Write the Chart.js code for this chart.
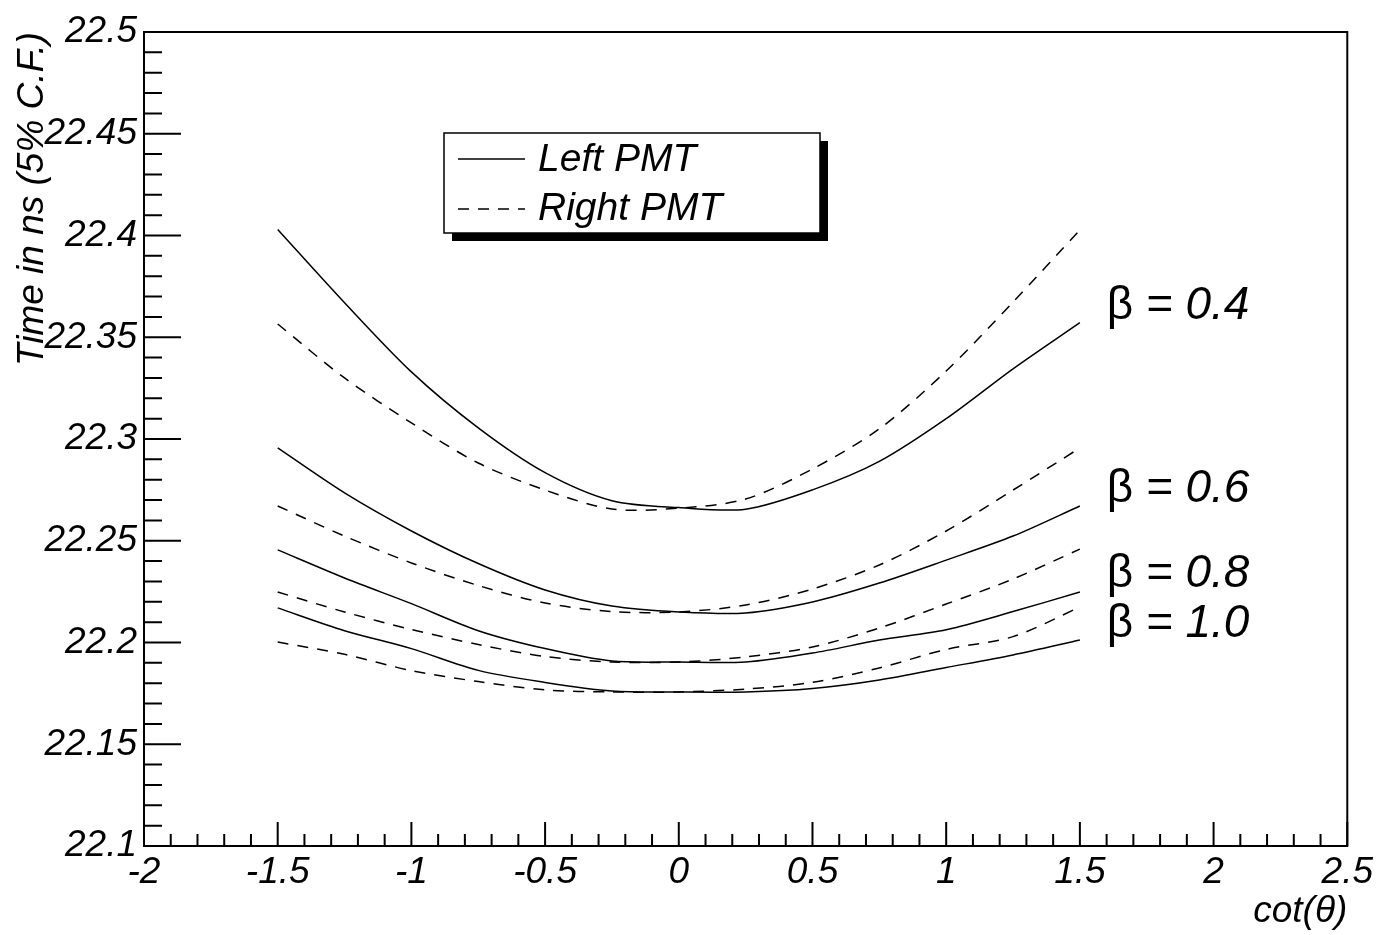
<!DOCTYPE html>
<html>
<head>
<meta charset="utf-8">
<script src="https://cdn.jsdelivr.net/npm/chart.js@4.4.1/dist/chart.umd.min.js"></script>
<style>
html, body { margin:0; padding:0; background:#fff; }
</style>
</head>
<body>
<canvas id="TimeChart" width="1378" height="935"></canvas>
<script>
// cot(theta) sample points
const cotTheta = [-1.5, -1.25, -1, -0.75, -0.5, -0.25, 0, 0.25, 0.5, 0.75, 1, 1.25, 1.5];

// time (ns), left PMT = solid, right PMT = dashed
const left04  = [22.403, 22.367, 22.333, 22.3055, 22.2835, 22.2697, 22.2663, 22.2655, 22.275, 22.289, 22.310, 22.3345, 22.3572];
const right04 = [22.3565, 22.330, 22.3079, 22.2882, 22.2749, 22.2656, 22.266, 22.2705, 22.2853, 22.305, 22.3334, 22.3673, 22.4027];
const left06  = [22.2956, 22.2735, 22.2548, 22.2388, 22.2258, 22.2179, 22.2150, 22.2145, 22.2199, 22.2292, 22.2405, 22.2523, 22.2671];
const right06 = [22.2671, 22.2523, 22.2391, 22.2280, 22.2194, 22.2152, 22.2150, 22.2184, 22.2263, 22.2381, 22.2548, 22.2749, 22.2956];
const left08  = [22.2455, 22.2317, 22.2191, 22.2058, 22.1970, 22.1909, 22.1904, 22.1904, 22.1948, 22.2012, 22.2063, 22.2152, 22.2248];
const right08 = [22.2248, 22.2150, 22.2064, 22.1990, 22.1931, 22.1904, 22.1904, 22.1929, 22.1978, 22.2071, 22.2189, 22.2312, 22.2459];
const left10  = [22.2170, 22.2058, 22.1970, 22.1863, 22.1804, 22.1762, 22.1757, 22.1757, 22.1774, 22.1816, 22.1877, 22.1939, 22.2012];
const right10 = [22.2002, 22.1942, 22.1862, 22.1808, 22.1767, 22.1757, 22.1757, 22.1771, 22.1804, 22.1875, 22.1966, 22.2029, 22.2174];

const betaValues = ['0.4', '0.6', '0.8', '1.0'];
const betaLabelX = 1.6;
const betaLabelY = [22.3654, 22.2754, 22.2337, 22.2091];

const legendNames = ['Left PMT', 'Right PMT'];

const FONT = 'Liberation Sans, Arial, sans-serif';
const DASH = [11, 9];

function pts(arr){
    return cotTheta.map((x, i) => ({x: x, y: arr[i]}));
}
function ds(label, arr, dashed){
    return {
        label: label,
        data: pts(arr),
        showLine: true,
        borderColor: '#000',
        borderWidth: 1.5,
        borderDash: dashed ? DASH : [],
        pointRadius: 0,
        tension: 0.3,
        fill: false
    };
}

const rootStyle = {
    id: 'rootStyle',
    afterDraw(chart){
        const ctx = chart.ctx;
        const a = chart.chartArea;
        const xs = chart.scales.x, ys = chart.scales.y;
        ctx.save();
        ctx.strokeStyle = '#000';
        ctx.lineWidth = 2;
        ctx.setLineDash([]);
        // frame
        ctx.strokeRect(a.left, a.top, a.right - a.left, a.bottom - a.top);
        // ticks, drawn inward like ROOT
        ctx.beginPath();
        for (let i = 0; i <= 40; i++){
            const y = ys.getPixelForValue(22.1 + i * 0.01);
            const len = (i % 5 === 0) ? 37 : 18;
            ctx.moveTo(a.left, y); ctx.lineTo(a.left + len, y);
        }
        for (let i = 0; i <= 45; i++){
            const x = xs.getPixelForValue(-2 + i * 0.1);
            const len = (i % 5 === 0) ? 24 : 12;
            ctx.moveTo(x, a.bottom); ctx.lineTo(x, a.bottom - len);
        }
        ctx.stroke();

        // legend box with shadow
        const bx = 444, by = 133, bw = 376, bh = 100;
        ctx.fillStyle = '#000';
        ctx.fillRect(bx + 8, by + 8, bw, bh);
        ctx.fillStyle = '#fff';
        ctx.fillRect(bx, by, bw, bh);
        ctx.lineWidth = 1.5;
        ctx.strokeRect(bx, by, bw, bh);
        ctx.lineWidth = 1.5;
        ctx.beginPath(); ctx.moveTo(458, 159); ctx.lineTo(525, 159); ctx.stroke();
        ctx.setLineDash(DASH);
        ctx.beginPath(); ctx.moveTo(458, 209); ctx.lineTo(525, 209); ctx.stroke();
        ctx.setLineDash([]);
        ctx.fillStyle = '#000';
        ctx.font = 'italic 39px ' + FONT;
        ctx.textBaseline = 'alphabetic';
        ctx.textAlign = 'left';
        ctx.fillText(legendNames[0], 538, 171);
        ctx.fillText(legendNames[1], 538, 220);

        // beta labels
        ctx.textBaseline = 'middle';
        betaValues.forEach((b, i) => {
            const x = xs.getPixelForValue(betaLabelX);
            const y = ys.getPixelForValue(betaLabelY[i]);
            ctx.font = '46px ' + FONT;
            ctx.fillText('\u03B2', x, y);
            const w = ctx.measureText('\u03B2').width;
            ctx.font = 'italic 46px ' + FONT;
            ctx.fillText(' = ' + b, x + w, y);
        });
        ctx.restore();
    }
};

const ctx = document.getElementById('TimeChart').getContext('2d');
new Chart(ctx, {
    type: 'scatter',
    data: {
        datasets: [
            ds('Left PMT, \u03B2 = 0.4', left04, false),
            ds('Right PMT, \u03B2 = 0.4', right04, true),
            ds('Left PMT, \u03B2 = 0.6', left06, false),
            ds('Right PMT, \u03B2 = 0.6', right06, true),
            ds('Left PMT, \u03B2 = 0.8', left08, false),
            ds('Right PMT, \u03B2 = 0.8', right08, true),
            ds('Left PMT, \u03B2 = 1.0', left10, false),
            ds('Right PMT, \u03B2 = 1.0', right10, true)
        ]
    },
    options: {
        responsive: false,
        animation: false,
        layout: { padding: { top: 32, right: 30, left: 0, bottom: 0 } },
        plugins: { legend: { display: false }, tooltip: { enabled: false } },
        scales: {
            x: {
                type: 'linear',
                min: -2, max: 2.5,
                grid: { display: false, drawTicks: false },
                border: { display: false },
                ticks: {
                    stepSize: 0.5,
                    padding: 5,
                    color: '#000',
                    maxRotation: 0,
                    font: { family: FONT, style: 'italic', size: 37 },
                    callback: v => String(Math.round(v * 100) / 100)
                },
                title: {
                    display: true,
                    text: 'cot(\u03B8)',
                    align: 'end',
                    color: '#000',
                    padding: { top: 0, bottom: 1 },
                    font: { family: FONT, style: 'italic', size: 37 }
                },
                afterFit: s => { s.height = 89; }
            },
            y: {
                min: 22.1, max: 22.5,
                grid: { display: false, drawTicks: false },
                border: { display: false },
                ticks: {
                    stepSize: 0.05,
                    padding: 7,
                    color: '#000',
                    font: { family: FONT, style: 'italic', size: 37 },
                    callback: v => String(Math.round(v * 100) / 100)
                },
                title: {
                    display: true,
                    text: 'Time in ns (5% C.F.)',
                    align: 'end',
                    color: '#000',
                    padding: { top: 11, bottom: 0 },
                    font: { family: FONT, style: 'italic', size: 37 }
                },
                afterFit: s => { s.width = 144; }
            }
        }
    },
    plugins: [rootStyle]
});
</script>
</body>
</html>
